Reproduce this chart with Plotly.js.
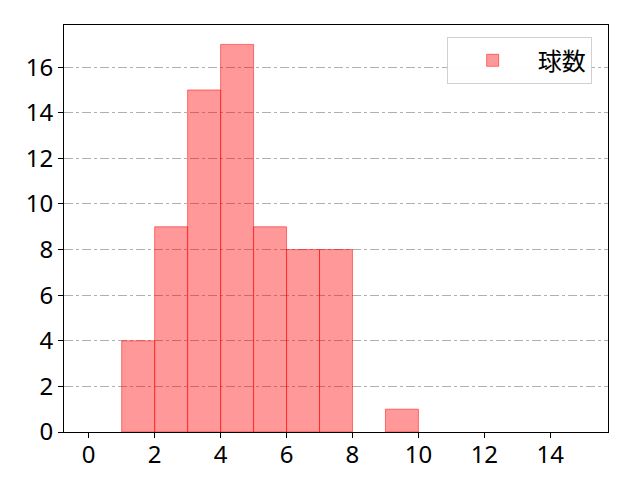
<!DOCTYPE html>
<html>
<head>
<meta charset="utf-8">
<script src="https://cdn.plot.ly/plotly-3.0.1.min.js"></script>
<style>html,body{margin:0;padding:0;background:#fff;}#chart{width:640px;height:480px;}</style>
</head>
<body>
<div id="chart"></div>
<script>
const binStarts = [0,1,2,3,4,5,6,7,8,9,10,11,12,13,14];
const counts    = [null,4,9,15,17,9,8,8,null,1,null,null,null,null,null];
const seriesName = "球数";
const xTicks = [0,2,4,6,8,10,12,14];
const yTicks = [0,2,4,6,8,10,12,14,16];

const trace = {
  type: 'bar',
  x: binStarts.map(b => b + 0.5),
  y: counts,
  width: 1,
  name: seriesName,
  marker: {color: 'rgba(255,0,0,0.4)', line: {color: 'rgba(255,0,0,0.5)', width: 1}},
  showlegend: true,
  hoverinfo: 'skip'
};

const tickFam = '"Noto Sans", "Noto Sans CJK JP", sans-serif';
const cjkFam = '"Noto Sans CJK JP", "Noto Sans", sans-serif';
const layout = {
  width: 640, height: 480,
  margin: {l: 64, r: 32, t: 25, b: 48, pad: 0},
  paper_bgcolor: '#fff', plot_bgcolor: '#fff',
  font: {family: cjkFam, size: 20, color: '#000'},
  bargap: 0,
  xaxis: {
    range: [-0.75, 15.75], tickvals: xTicks, ticktext: xTicks.map(String),
    ticks: 'outside', ticklen: 5, tickwidth: 1, tickcolor: '#000',
    showline: true, linecolor: '#000', linewidth: 1, mirror: true,
    showgrid: false, zeroline: false, ticklabelstandoff: -4,
    tickfont: {family: tickFam, size: 24, color: '#000'}
  },
  yaxis: {
    range: [0, 17.85], tickvals: yTicks, ticktext: yTicks.map(String),
    ticks: 'outside', ticklen: 5, tickwidth: 1, tickcolor: '#000',
    showline: true, linecolor: '#000', linewidth: 1, mirror: true,
    showgrid: true, gridcolor: '#b0b0b0', gridwidth: 1, griddash: 'dashdot',
    zeroline: false,
    tickfont: {family: tickFam, size: 24, color: '#000'}
  },
  legend: {
    x: 0.97, y: 0.97, xanchor: 'right', yanchor: 'top',
    bgcolor: 'rgba(255,255,255,0.95)', bordercolor: '#d0d0d0', borderwidth: 1,
    font: {family: cjkFam, size: 24, color: '#000'},
    itemwidth: 80
  }
};

Plotly.newPlot('chart', [trace], layout, {displayModeBar: false, staticPlot: true});
</script>
</body>
</html>
